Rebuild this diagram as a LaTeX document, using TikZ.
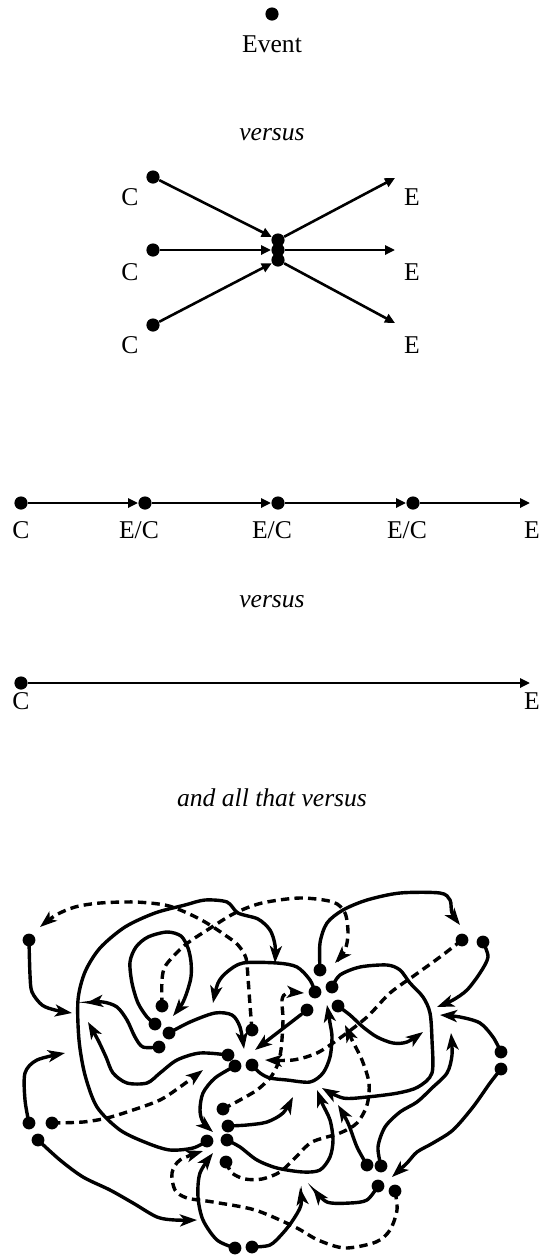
\documentclass[tikz,border=0pt]{standalone}
\usepackage{fontspec}
\setmainfont{Liberation Serif}
\usetikzlibrary{arrows.meta}

\begin{document}
\begin{tikzpicture}[x=0.5pt, y=-0.5pt,
  dot/.style={circle, fill=black, inner sep=0pt, minimum size=6.6pt},
  kdot/.style={circle, fill=black, inner sep=0pt, minimum size=6.4pt},
  lbl/.style={inner sep=0pt, anchor=base, font=\fontsize{12.8}{15}\selectfont},
  vs/.style={lbl, font=\fontsize{12.8}{15}\selectfont\itshape},
  arr/.style={line width=1.3pt, -{Triangle[length=5pt, width=4.6pt]}},
  link/.style={line width=1.7pt, line cap=round, -{Stealth[length=8.5pt, width=6pt, inset=2.2pt]}},
  dlink/.style={link, line cap=butt, dash pattern=on 4.2pt off 2.6pt}]
\useasboundingbox (0,0) rectangle (541,1255);

% a single event
\node[dot] (ev) at (272,14) {};
\node[lbl] (evt) at (272,52) {Event};
\node[vs] (vs1) at (272,140) {versus};

% three causes into one, three effects out
\node[dot] (c1) at (153,177) {};
\node[dot] (c2) at (153,250) {};
\node[dot] (c3) at (153,325) {};
\node[dot] (x1) at (278,240) {};
\node[dot] (x2) at (278,250) {};
\node[dot] (x3) at (278,260) {};
\coordinate (e1) at (395,178);
\coordinate (e2) at (395,250);
\coordinate (e3) at (395,323);
\draw[arr] (c1) -- (x1);
\draw[arr] (c2) -- (x2);
\draw[arr] (c3) -- (x3);
\draw[arr] (x1) -- (e1);
\draw[arr] (x2) -- (e2);
\draw[arr] (x3) -- (e3);
\node[lbl] at (130,205) {C};
\node[lbl] at (130,280) {C};
\node[lbl] at (130,353) {C};
\node[lbl] at (412,205) {E};
\node[lbl] at (412,280) {E};
\node[lbl] at (412,353) {E};

% chain
\node[dot] (a1) at (21,503) {};
\node[dot] (a2) at (145,503) {};
\node[dot] (a3) at (278,503) {};
\node[dot] (a4) at (413,503) {};
\coordinate (a5) at (530,503);
\draw[arr] (a1) -- (a2);
\draw[arr] (a2) -- (a3);
\draw[arr] (a3) -- (a4);
\draw[arr] (a4) -- (a5);
\node[lbl] at (21,538) {C};
\node[lbl] at (139,538) {E/C};
\node[lbl] at (272,538) {E/C};
\node[lbl] at (407,538) {E/C};
\node[lbl] at (532,538) {E};

\node[vs] (vs2) at (272,607) {versus};

% one long arrow
\node[dot] (b1) at (21,683) {};
\coordinate (b2) at (530,683);
\draw[arr] (b1) -- (b2);
\node[lbl] at (21,709) {C};
\node[lbl] at (532,709) {E};

\node[vs] (vs3) at (272,806) {and all that versus};

% the tangle
\foreach \n/\x/\y in {1/29/940, 2/162/1006, 3/155/1024, 4/169/1033, 5/159/1047,
  6/252/1030, 7/228/1055, 8/235/1066, 9/252/1065, 10/320/970, 11/315/992,
  12/332/987, 13/307/1010, 14/338/1006, 15/462/940, 16/483/942, 17/501/1052,
  18/501/1069, 19/29/1123, 20/52/1123, 21/38/1140, 22/223/1109, 23/228/1126,
  24/207/1141, 25/227/1140, 26/226/1162, 27/367/1165, 28/381/1166,
  29/378/1186, 30/395/1191, 31/235/1248, 32/252/1247}
  \node[kdot] (k\n) at (\x,\y) {};
\foreach \n/\x/\y in {1/72/1013, 2/335/963, 3/173/1016, 4/244/1049, 5/86/1003,
  6/40/927, 7/88/1022, 8/213/1132, 9/327/1005, 10/460/925, 11/213/1003,
  12/322/1088, 13/255/1050, 14/423/1032, 15/265/1060, 16/437/1007,
  17/440/1015, 18/392/1177, 19/65/1053, 20/203/1070, 21/197/1220,
  22/304/993, 23/293/1097, 24/275/963, 25/317/1090, 26/345/1025,
  27/338/1105, 28/451/1033, 29/313/1188, 30/203/1151, 31/213/1153, 32/300/1188}
  \coordinate (tip\n) at (\x,\y);

\draw[link] plot[smooth] coordinates {(k1.center) (30,975) (32,992) (42,1005) (55,1010) (tip1)};
\draw[dlink] plot[smooth] coordinates {(k2.center) (162,980) (166,965) (185,945) (212,927) (235,913) (262,903) (300,898) (333,902) (345,913) (348,933) (345,950) (tip2)};
\draw[link] plot[smooth] coordinates {(k3.center) (147,1017) (138,1003) (132,983) (130,962) (136,947) (148,937) (167,932) (181,936) (188,948) (191,962) (191,977) (187,992) (182,1004) (tip3)};
\draw[link] plot[smooth] coordinates {(k4.center) (190,1022) (215,1013) (232,1015) (240,1027) (tip4)};
\draw[link] plot[smooth] coordinates {(k5.center) (143,1047) (135,1037) (127,1020) (117,1007) (103,1002) (tip5)};
\draw[dlink] plot[smooth] coordinates {(k6.center) (250,1005) (248,978) (246,958) (238,945) (225,935) (205,922) (185,912) (165,905) (135,902) (100,903) (75,907) (56,915) (tip6)};
\draw[link] plot[smooth] coordinates {(k7.center) (200,1053) (177,1060) (160,1073) (147,1083) (127,1083) (113,1073) (106,1057) (98,1040) (tip7)};
\draw[link] plot[smooth] coordinates {(k8.center) (215,1078) (203,1093) (200,1110) (203,1122) (tip8)};
\draw[link] plot[smooth] coordinates {(k9.center) (260,1073) (270,1078) (287,1080) (310,1082) (323,1073) (330,1057) (332,1037) (330,1023) (tip9)};
\draw[link] plot[smooth] coordinates {(k10.center) (320,943) (327,923) (343,910) (367,900) (400,893) (440,893) (450,900) (452,913) (tip10)};
\draw[link] plot[smooth] coordinates {(k11.center) (310,980) (297,967) (277,963) (243,963) (227,972) (218,983) (tip11)};
\draw[link] plot[smooth] coordinates {(k12.center) (340,975) (360,967) (387,965) (400,970) (410,983) (423,997) (430,1013) (432,1040) (432,1073) (418,1087) (398,1093) (367,1097) (343,1098) (tip12)};
\draw[link] (k13) -- (tip13);
\draw[link] plot[smooth] coordinates {(k14.center) (350,1015) (363,1027) (377,1037) (393,1043) (407,1042) (tip14)};
\draw[dlink] plot[smooth] coordinates {(k15.center) (440,957) (415,975) (390,993) (367,1017) (340,1038) (317,1053) (293,1060) (tip15)};
\draw[link] plot[smooth] coordinates {(k16.center) (488,957) (480,973) (467,990) (453,1000) (tip16)};
\draw[link] plot[smooth] coordinates {(k17.center) (493,1037) (480,1023) (460,1017) (tip17)};
\draw[link] plot[smooth] coordinates {(k18.center) (490,1083) (473,1107) (453,1130) (433,1143) (417,1152) (407,1163) (tip18)};
\draw[link] plot[smooth] coordinates {(k19.center) (25,1100) (25,1073) (37,1060) (tip19)};
\draw[dlink] plot[smooth] coordinates {(k20.center) (83,1122) (107,1118) (133,1110) (160,1100) (180,1087) (tip20)};
\draw[link] plot[smooth] coordinates {(k21.center) (60,1160) (83,1177) (110,1190) (133,1203) (157,1217) (175,1220) (tip21)};
\draw[dlink] plot[smooth] coordinates {(k22.center) (240,1100) (257,1090) (270,1078) (277,1066) (281,1050) (283,1020) (282,1000) (287,993) (tip22)};
\draw[link] plot[smooth] coordinates {(k23.center) (247,1125) (267,1122) (283,1113) (tip23)};
\draw[link] plot[smooth] coordinates {(k24.center) (193,1148) (170,1150) (147,1143) (120,1130) (97,1107) (85,1075) (79,1040) (78,1000) (85,972) (100,948) (125,927) (155,913) (185,905) (205,900) (227,902) (238,913) (258,919) (270,930) (275,945) (tip24)};
\draw[link] plot[smooth] coordinates {(k25.center) (240,1147) (257,1160) (277,1168) (303,1172) (320,1170) (330,1157) (333,1140) (330,1120) (322,1103) (tip25)};
\draw[dlink] plot[smooth] coordinates {(k26.center) (232,1173) (245,1179) (262,1179) (280,1172) (296,1157) (312,1142) (340,1133) (357,1123) (367,1105) (369,1083) (362,1060) (352,1040) (tip26)};
\draw[link] plot[smooth] coordinates {(k27.center) (357,1147) (348,1123) (tip27)};
\draw[link] plot[smooth] coordinates {(k28.center) (378,1147) (385,1127) (400,1112) (417,1102) (432,1088) (447,1073) (452,1055) (tip28)};
\draw[link] plot[smooth] coordinates {(k29.center) (367,1200) (350,1203) (327,1202) (tip29)};
\draw[dlink] plot[smooth] coordinates {(k30.center) (397,1210) (390,1230) (376,1242) (345,1248) (318,1240) (295,1227) (255,1210) (213,1202) (187,1198) (175,1190) (172,1173) (180,1160) (tip30)};
\draw[link] plot[smooth] coordinates {(k31.center) (217,1240) (203,1220) (198,1197) (200,1173) (tip31)};
\draw[link] plot[smooth] coordinates {(k32.center) (270,1245) (283,1233) (293,1220) (301,1205) (tip32)};
\end{tikzpicture}
\end{document}
